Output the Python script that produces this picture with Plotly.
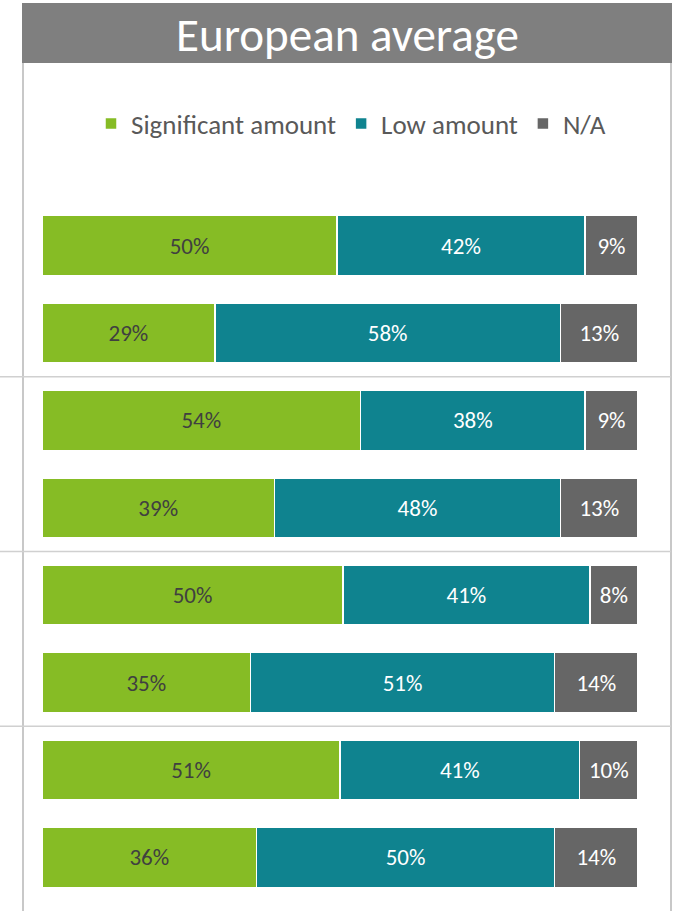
import plotly.graph_objects as go

rows = [0, 1, 2, 3, 4, 5, 6, 7]
significant = [50, 29, 54, 39, 50, 35, 51, 36]
low = [42, 58, 38, 48, 41, 51, 41, 50]
na = [9, 13, 9, 13, 8, 14, 10, 14]

series = [
    ("Significant amount", significant, "#86BC25", "#404040"),
    ("Low amount", low, "#0F838F", "white"),
    ("N/A", na, "#666666", "white"),
]

FONT = "Carlito, Open Sans"

fig = go.Figure()
for name, vals, col, tcol in series:
    fig.add_trace(go.Bar(
        y=rows, x=vals, name=name, orientation="h",
        marker=dict(color=col, line=dict(color="white", width=1.5)),
        text=[f"{v}%" for v in vals], texttemplate="%{text}",
        textposition="inside", insidetextanchor="middle", textangle=0,
        constraintext="none",
        textfont=dict(color=tcol, size=23, family=FONT),
        hoverinfo="skip",
    ))

W, H = 679, 911
L, R, T, B = 42, 41, 202, 10
pw = W - L - R
ph = H - T - B

def px_x(p):
    return (p - L) / pw

def px_y(p):
    return (H - B - p) / ph

shapes = []
# title bar
shapes.append(dict(type="rect", xref="paper", yref="paper",
                   x0=px_x(22), x1=px_x(672), y0=px_y(63), y1=px_y(3),
                   fillcolor="#7F7F7F", line=dict(width=0), layer="below"))
# box border
for xx in (23, 671):
    shapes.append(dict(type="line", xref="paper", yref="paper",
                       x0=px_x(xx), x1=px_x(xx), y0=px_y(63), y1=px_y(911),
                       line=dict(color="#C8C8C8", width=2), layer="below"))
# separators
for yy in (1.5, 3.5, 5.5):
    shapes.append(dict(type="line", xref="paper", yref="y",
                       x0=px_x(0), x1=px_x(671), y0=yy, y1=yy,
                       line=dict(color="#D0D0D0", width=1.5), layer="below"))

fig.update_layout(
    width=W, height=H,
    margin=dict(l=L, r=R, t=T, b=B),
    barmode="stack", barnorm="percent", bargap=0.313,
    plot_bgcolor="white", paper_bgcolor="white",
    xaxis=dict(visible=False, range=[0, 100], fixedrange=True),
    yaxis=dict(visible=False, range=[7.5, -0.5], fixedrange=True),
    shapes=shapes,
    showlegend=True,
    legend=dict(orientation="h", x=px_x(351), xanchor="center",
                y=px_y(124), yanchor="middle",
                font=dict(size=27, color="#595959", family=FONT),
                itemwidth=30, traceorder="normal"),
    annotations=[dict(text="European average", xref="paper", yref="paper",
                      x=px_x(347), y=px_y(35), xanchor="center", yanchor="middle",
                      showarrow=False,
                      font=dict(size=47, color="white", family=FONT))],
    font=dict(family=FONT),
)

fig.write_html("out.html", config={"displayModeBar": False},
               post_script="document.body.style.margin='0';")
